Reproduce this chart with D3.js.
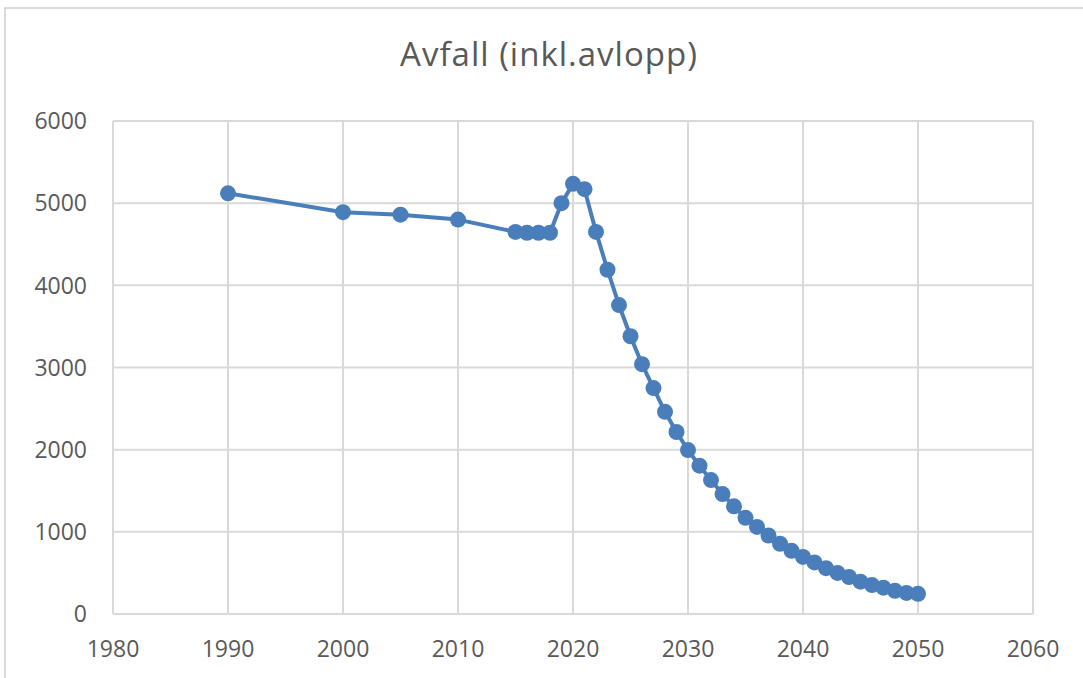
<!DOCTYPE html>
<html>
<head>
<meta charset="utf-8">
<script src="https://cdn.jsdelivr.net/npm/d3@7"></script>
<style>
  body { margin: 0; background: #fff; }
  text { font-family: "Open Sans", Lato, sans-serif; fill: #595959; }
</style>
</head>
<body>
<div id="chart"></div>
<script>
// data
const years = [1990, 2000, 2005, 2010, 2015, 2016, 2017, 2018, 2019, 2020, 2021, 2022, 2023, 2024, 2025,
  2026, 2027, 2028, 2029, 2030, 2031, 2032, 2033, 2034, 2035, 2036, 2037, 2038, 2039, 2040,
  2041, 2042, 2043, 2044, 2045, 2046, 2047, 2048, 2049, 2050]
const values = [5120, 4890, 4860, 4800, 4650, 4640, 4640, 4640, 5000, 5235, 5170, 4650, 4190, 3760, 3380,
  3040, 2750, 2460, 2215, 1995, 1805, 1630, 1460, 1310, 1170, 1060, 955, 855, 770, 695,
  628, 558, 500, 450, 393, 352, 320, 282, 256, 245]
const xTicks = [1980, 1990, 2000, 2010, 2020, 2030, 2040, 2050, 2060]
const yTicks = [0, 1000, 2000, 3000, 4000, 5000, 6000]

const width = 1083
const height = 678
const margin = {left: 113, right: 50, top: 121, bottom: 64}

const svg = d3.select("#chart")
  .append("svg")
    .attr("width", width)
    .attr("height", height)

// chart frame (only top and left edges visible in the screenshot)
svg.append("path")
  .attr("d", `M5,${height} L5,8 L${width},8`)
  .attr("fill", "none")
  .attr("stroke", "#d9d9d9")
  .attr("stroke-width", 2)

svg.append("text")
  .attr("x", 549)
  .attr("y", 66)
  .attr("text-anchor", "middle")
  .style("font-size", "33px")
  .style("letter-spacing", "1px")
  .text("Avfall (inkl.avlopp)")

const x = d3.scaleLinear().domain([1980, 2060]).range([margin.left, width - margin.right])
const y = d3.scaleLinear().domain([0, 6000]).range([height - margin.bottom, margin.top])

// gridlines
svg.append("g")
  .selectAll("line.v")
  .data(xTicks)
  .join("line")
    .attr("x1", d => x(d)).attr("x2", d => x(d))
    .attr("y1", y(0)).attr("y2", y(6000))
    .attr("stroke", "#d9d9d9")
    .attr("stroke-width", 2)

svg.append("g")
  .selectAll("line.h")
  .data(yTicks)
  .join("line")
    .attr("x1", x(1980)).attr("x2", x(2060))
    .attr("y1", d => y(d)).attr("y2", d => y(d))
    .attr("stroke", "#d9d9d9")
    .attr("stroke-width", 2)

// tick labels
svg.append("g")
  .selectAll("text")
  .data(yTicks)
  .join("text")
    .attr("x", margin.left - 26)
    .attr("y", d => y(d))
    .attr("dy", "0.36em")
    .attr("text-anchor", "end")
    .style("font-size", "23px")
    .text(d => d)

svg.append("g")
  .selectAll("text")
  .data(xTicks)
  .join("text")
    .attr("x", d => x(d))
    .attr("y", y(0) + 43)
    .attr("text-anchor", "middle")
    .style("font-size", "23px")
    .text(d => d)

const pts = years.map((yr, i) => [yr, values[i]])

svg.append("path")
  .datum(pts)
  .attr("fill", "none")
  .attr("stroke", "#4a7ebb")
  .attr("stroke-width", 4)
  .attr("stroke-linejoin", "round")
  .attr("d", d3.line().x(d => x(d[0])).y(d => y(d[1])))

svg.append("g")
  .selectAll("circle")
  .data(pts)
  .join("circle")
    .attr("cx", d => x(d[0]))
    .attr("cy", d => y(d[1]))
    .attr("r", 8)
    .attr("fill", "#4a7ebb")
</script>
</body>
</html>
